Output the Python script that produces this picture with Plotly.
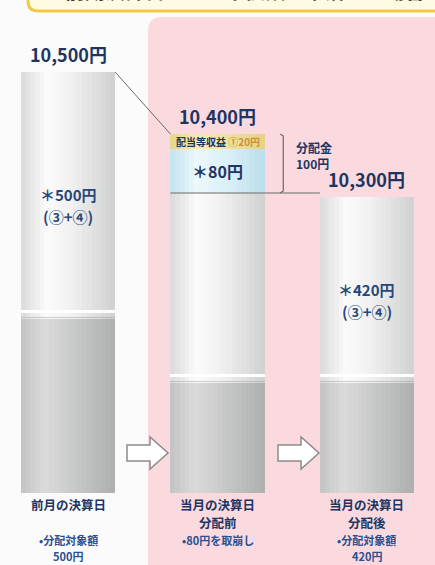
import plotly.graph_objects as go

# ---------------- data ----------------
stages = ["前月の決算日", "当月の決算日<br>分配前", "当月の決算日<br>分配後"]
notes = ["•分配対象額<br>500円", "•80円を取崩し", "•分配対象額<br>420円"]
nav_labels = ["10,500円", "10,400円", "10,300円"]
# segment heights in drawing units (the infographic is not drawn to scale)
gray_seg = [174, 110, 110]
white_seg = [247, 190, 186]
blue_seg = [0, 44, 0]
yellow_seg = [0, 15, 0]
white_text = ["＊500円<br>(③+④)", "", "＊420円<br>(③+④)"]
blue_text = "＊80円"
yellow_text = "配当等収益"
yellow_value = "①20円"
dist_text = "分配金<br>100円"
banner_text = "前期決算日から基準価額が下落した場合"

# ---------------- layout constants ----------------
W_PX, H_PX = 435, 565
X_RANGE = [-0.455, 2.455]
Y_RANGE = [-72, 493]
BW = 0.63
NAVY = "#1d3563"
FONT = "Noto Sans CJK JP"
xs = [0, 1, 2]

gray_base = [0] * 3
white_base = [g for g in gray_seg]
blue_base = [g + w for g, w in zip(gray_seg, white_seg)]
yellow_base = [b + s for b, s in zip(blue_base, blue_seg)]
tops = [b + s for b, s in zip(yellow_base, yellow_seg)]


def hex2rgb(h):
    h = h.lstrip("#")
    return [int(h[i:i + 2], 16) for i in (0, 2, 4)]


def interp(stops, t):
    for (t0, c0), (t1, c1) in zip(stops[:-1], stops[1:]):
        if t0 <= t <= t1:
            a = (t - t0) / (t1 - t0) if t1 > t0 else 0
            r0, r1 = hex2rgb(c0), hex2rgb(c1)
            return "rgb(%d,%d,%d)" % tuple(round(r0[k] + (r1[k] - r0[k]) * a) for k in range(3))
    return "rgb(%d,%d,%d)" % tuple(hex2rgb(stops[-1][1]))


fig = go.Figure()
N = 20


def add_segment(base, height, stops):
    step = BW / N
    for i in range(N):
        off = -BW / 2 + i * step
        w = min(step * 1.35, BW / 2 - off)
        fig.add_bar(x=xs, y=height, base=base, width=w, offset=off,
                    marker=dict(color=interp(stops, (i + 0.5) / N), line=dict(width=0)),
                    hoverinfo="skip", showlegend=False)


gray_stops = [(0, "#c2c4c3"), (0.25, "#d9dad9"), (0.45, "#cfd0cf"), (1, "#adafae")]
white_stops = [(0, "#dadada"), (0.28, "#fbfbfb"), (0.55, "#f0f0f0"), (1, "#cfd1d0")]
blue_stops = [(0, "#c2e3f1"), (0.28, "#ecf8fc"), (0.6, "#daf0f8"), (1, "#bcdeec")]
yellow_stops = [(0, "#e9d68c"), (0.3, "#f7eab2"), (1, "#e6d285")]

add_segment(gray_base, gray_seg, gray_stops)
add_segment(white_base, white_seg, white_stops)
add_segment(blue_base, blue_seg, blue_stops)
add_segment(yellow_base, yellow_seg, yellow_stops)

# rim highlight where white meets gray
fig.add_bar(x=xs, y=[3] * 3, base=[g + 6 for g in gray_seg], width=BW,
            marker=dict(color="rgba(255,255,255,0.95)", line=dict(width=0)),
            hoverinfo="skip", showlegend=False)
fig.add_bar(x=xs, y=[1.5] * 3, base=[g + 1 for g in gray_seg], width=BW,
            marker=dict(color="rgba(150,150,150,0.45)", line=dict(width=0)),
            hoverinfo="skip", showlegend=False)


def P(x, y):
    return "%.4f,%.4f" % (x / W_PX, 1 - y / H_PX)


shapes = []
# pink background panel
r = 14
x0, y0, x1, y1 = 148, 17, 445, 580
pink = "M %s L %s L %s L %s Q %s %s L %s Q %s %s Z" % (
    P(x0 + r, y0), P(x1, y0), P(x1, y1), P(x0 + r, y1),
    P(x0, y1), P(x0, y1 - r), P(x0, y0 + r), P(x0, y0), P(x0 + r, y0))
shapes.append(dict(type="path", xref="paper", yref="paper", path=pink,
                   fillcolor="#fadade", line=dict(width=0), layer="below"))

# top banner (cut off)
bx0, by0, bx1, by1, br = 28, -40, 450, 11, 10
banner = "M %s L %s L %s L %s Q %s %s Z" % (
    P(bx0, by0), P(bx1, by0), P(bx1, by1), P(bx0 + br, by1), P(bx0, by1), P(bx0, by1 - br))
shapes.append(dict(type="path", xref="paper", yref="paper", path=banner,
                   fillcolor="#fffbe2", line=dict(color="#f3c944", width=3), layer="above"))

# connector lines
shapes.append(dict(type="line", xref="x", yref="y", x0=0 + BW / 2, y0=tops[0],
                   x1=1 - BW / 2, y1=tops[1], line=dict(color="#6a6a6a", width=1)))
shapes.append(dict(type="line", xref="x", yref="y", x0=1 - BW / 2, y0=blue_base[1],
                   x1=2 - BW / 2, y1=blue_base[1], line=dict(color="#6a6a6a", width=1)))
bxk = 1.44
shapes.append(dict(type="path", xref="x", yref="y",
                   path="M %f,%f L %f,%f L %f,%f L %f,%f" % (
                       bxk - 0.02, tops[1], bxk, tops[1] - 2, bxk, blue_base[1] + 2, bxk - 0.02, blue_base[1]),
                   line=dict(color="#6a6a6a", width=1.2)))

# hollow arrows between stages
for dx in (0, 151):
    ax = 127 + dx
    arrow = "M %s L %s L %s L %s L %s L %s L %s Z" % (
        P(ax, 445), P(ax + 23, 445), P(ax + 23, 437), P(ax + 41, 453),
        P(ax + 23, 469), P(ax + 23, 461), P(ax, 461))
    shapes.append(dict(type="path", xref="paper", yref="paper", path=arrow,
                       fillcolor="#ffffff", line=dict(color="#8c8c8c", width=1.5)))

ann = []


def label(x, y, text, size, color, yshift=0, xanchor="center", yanchor="middle", align="center"):
    ann.append(dict(x=x, y=y, yshift=yshift, xanchor=xanchor, yanchor=yanchor, align=align,
                    text="<b>%s</b>" % text, showarrow=False,
                    font=dict(family=FONT, size=size, color=color)))


# banner text (mostly cut off at the top edge, as in the source image)
ann.append(dict(xref="paper", yref="paper", x=245 / W_PX, y=1 - 7 / H_PX, xanchor="center",
                yanchor="bottom", text="<b>%s</b>" % banner_text, showarrow=False,
                font=dict(family=FONT, size=20, color="#3a3a3a")))
for i in range(3):
    label(xs[i], tops[i], nav_labels[i], 18, NAVY, yshift=3, yanchor="bottom")
    if white_text[i]:
        mid = white_base[i] + white_seg[i] / 2
        for k, t in enumerate(white_text[i].split("<br>")):
            label(xs[i], mid, t, 15, "#27477a", yshift=1 - 22 * k)
    for k, t in enumerate(stages[i].split("<br>")):
        label(xs[i], 0, t, 12.5, NAVY, yshift=-11 - 18.3 * k)
    for k, t in enumerate(notes[i].split("<br>")):
        label(xs[i], 0, t, 11, "#2b4f8f", yshift=-47 - 15.6 * k)

label(1, blue_base[1] + blue_seg[1] / 2, blue_text, 16, NAVY)
ann.append(dict(x=1, y=yellow_base[1] + yellow_seg[1] / 2,
                text="<b>%s</b> <span style='color:#c9923a'><b>%s</b></span>" % (yellow_text, yellow_value),
                showarrow=False, font=dict(family=FONT, size=10, color=NAVY)))
label(1.51, tops[1], dist_text, 12, NAVY, yshift=-3, xanchor="left", yanchor="top", align="left")

fig.update_layout(
    width=W_PX, height=H_PX, margin=dict(l=0, r=0, t=0, b=0),
    barmode="overlay", bargap=0,
    paper_bgcolor="#fbfbfb", plot_bgcolor="rgba(0,0,0,0)",
    xaxis=dict(range=X_RANGE, visible=False, fixedrange=True),
    yaxis=dict(range=Y_RANGE, visible=False, fixedrange=True),
    shapes=shapes, annotations=ann, showlegend=False,
)

fig.write_html("out.html", config={"displayModeBar": False},
               post_script="document.body.style.margin='0';")
